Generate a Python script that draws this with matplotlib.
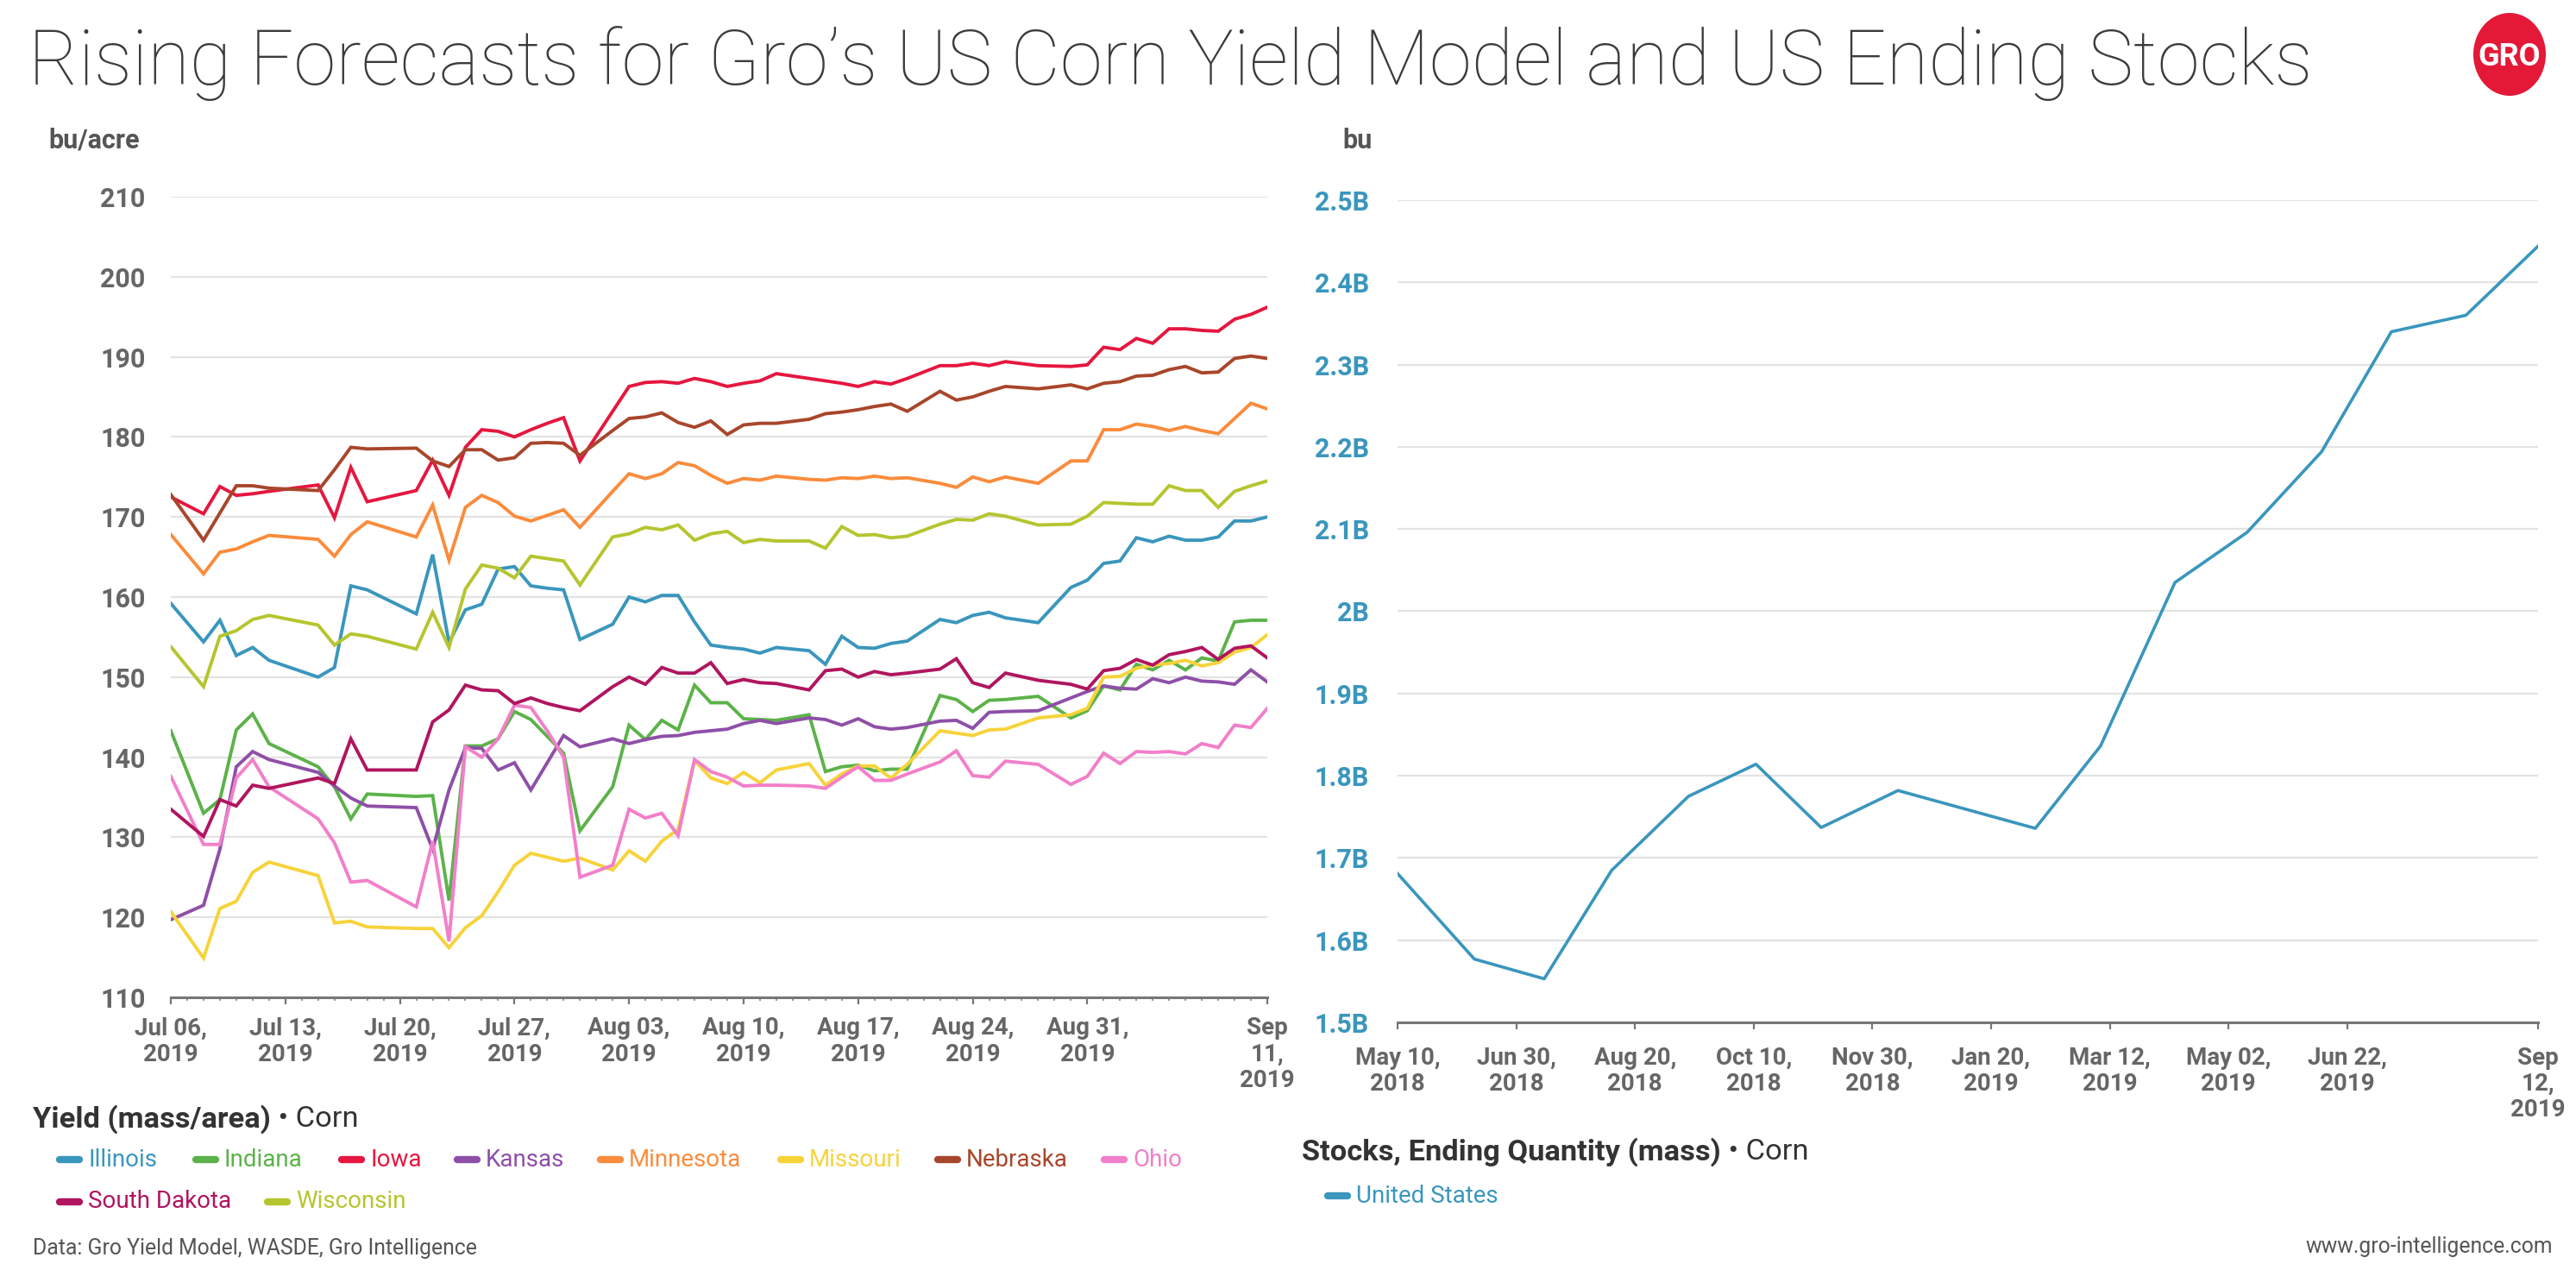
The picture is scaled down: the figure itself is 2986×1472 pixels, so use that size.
import matplotlib
matplotlib.use("Agg")
import matplotlib.pyplot as plt
import matplotlib.dates as mdates
from matplotlib.lines import Line2D
from matplotlib.patches import Ellipse
from matplotlib.ticker import FixedLocator, FuncFormatter
import numpy as np
import pandas as pd

plt.rcParams['font.family'] = ['Roboto', 'DejaVu Sans']

W, H = 2986, 1472

## rendimiento modelo Gro (bu/acre), dias desde Jul 06 2019
yield_start = pd.Timestamp('2019-07-06')
day_offsets = [0, 2, 3, 4, 5, 6, 9, 10, 11, 12,
               15, 16, 17, 18, 19, 20, 21, 22, 23, 24, 25,
               27, 28, 29, 30, 31, 32, 33, 34, 35, 36, 37,
               39, 40, 41, 42, 43, 44, 45,
               47, 48, 49, 50, 51,
               53,
               55, 56, 57, 58, 59, 60, 61, 62, 63, 64, 65, 66, 67]

states = ['Illinois', 'Indiana', 'Iowa', 'Kansas', 'Minnesota',
          'Missouri', 'Nebraska', 'Ohio', 'South Dakota', 'Wisconsin']

illinois = [159.2, 154.4, 157.1, 152.7, 153.7, 152.1, 150.0, 151.2, 161.4, 160.9,
            157.9, 165.3, 154.3, 158.4, 159.1, 163.5, 163.8, 161.4, 161.1, 160.9, 154.7,
            156.6, 160.0, 159.4, 160.2, 160.2, 156.9, 154.0, 153.7, 153.5, 153.0, 153.7,
            153.3, 151.6, 155.1, 153.7, 153.6, 154.2, 154.5,
            157.2, 156.8, 157.7, 158.1, 157.4,
            156.8,
            161.2, 162.1, 164.2, 164.5, 167.4, 166.9, 167.6, 167.1, 167.1, 167.5, 169.5, 169.5, 170.0]
indiana = [143.3, 133.0, 134.7, 143.4, 145.4, 141.7, 138.8, 136.3, 132.3, 135.4,
           135.1, 135.2, 122.1, 141.4, 141.4, 142.3, 145.7, 144.7, 142.6, 140.5, 130.8,
           136.3, 144.0, 142.2, 144.6, 143.4, 149.0, 146.8, 146.8, 144.8, 144.7, 144.6,
           145.3, 138.2, 138.8, 139.0, 138.3, 138.5, 138.5,
           147.7, 147.2, 145.7, 147.1, 147.2,
           147.6,
           144.9, 145.8, 148.9, 148.4, 151.6, 150.9, 152.1, 150.9, 152.4, 152.0, 156.9, 157.1, 157.1]
iowa = [172.5, 170.4, 173.8, 172.7, 172.9, 173.2, 174.0, 169.9, 176.2, 171.9,
        173.3, 177.1, 172.7, 178.7, 180.9, 180.7, 180.0, 180.9, 181.7, 182.4, 177.0,
        183.2, 186.3, 186.8, 186.9, 186.7, 187.3, 186.9, 186.3, 186.7, 187.0, 187.9,
        187.3, 187.0, 186.7, 186.3, 186.9, 186.6, 187.3,
        188.9, 188.9, 189.2, 188.9, 189.4,
        188.9,
        188.8, 189.0, 191.2, 190.9, 192.3, 191.7, 193.5, 193.5, 193.3, 193.2, 194.7, 195.3, 196.2]
kansas = [119.7, 121.5, 128.5, 138.8, 140.7, 139.7, 138.1, 136.4, 134.9, 133.9,
          133.7, 128.5, 135.9, 141.2, 141.1, 138.4, 139.3, 135.9, 139.3, 142.7, 141.3,
          142.3, 141.7, 142.2, 142.6, 142.7, 143.1, 143.3, 143.5, 144.2, 144.6, 144.2,
          144.9, 144.7, 144.0, 144.8, 143.8, 143.5, 143.7,
          144.5, 144.6, 143.6, 145.6, 145.7,
          145.8,
          147.4, 148.2, 148.9, 148.6, 148.5, 149.8, 149.3, 150.0, 149.5, 149.4, 149.1, 150.9, 149.4]
minnesota = [167.8, 162.9, 165.6, 166.0, 166.9, 167.7, 167.2, 165.1, 167.8, 169.4,
             167.5, 171.5, 164.6, 171.2, 172.7, 171.8, 170.1, 169.5, 170.2, 170.9, 168.7,
             173.2, 175.4, 174.8, 175.4, 176.8, 176.4, 175.2, 174.2, 174.8, 174.6, 175.1,
             174.7, 174.6, 174.9, 174.8, 175.1, 174.8, 174.9,
             174.2, 173.7, 175.0, 174.4, 175.0,
             174.2,
             177.0, 177.0, 180.9, 180.9, 181.6, 181.3, 180.8, 181.3, 180.8, 180.4, 182.3, 184.2, 183.5]
missouri = [120.7, 114.9, 121.1, 122.0, 125.6, 126.9, 125.2, 119.3, 119.5, 118.8,
            118.6, 118.6, 116.2, 118.7, 120.2, 123.2, 126.5, 128.0, 127.5, 127.0, 127.4,
            125.9, 128.3, 127.0, 129.5, 131.0, 139.6, 137.4, 136.7, 138.1, 136.8, 138.4,
            139.2, 136.5, 137.9, 138.9, 138.9, 137.4, 139.1,
            143.3, 143.0, 142.7, 143.4, 143.5,
            144.9,
            145.3, 146.1, 150.0, 150.1, 151.1, 151.5, 151.7, 152.1, 151.4, 151.8, 153.1, 153.7, 155.3]
nebraska = [172.8, 167.1, 170.5, 173.9, 173.9, 173.6, 173.3, 175.9, 178.7, 178.5,
            178.6, 177.0, 176.3, 178.4, 178.4, 177.1, 177.4, 179.2, 179.3, 179.2, 177.7,
            180.8, 182.3, 182.5, 183.0, 181.8, 181.2, 182.0, 180.3, 181.5, 181.7, 181.7,
            182.2, 182.9, 183.1, 183.4, 183.8, 184.1, 183.2,
            185.7, 184.6, 185.0, 185.7, 186.3,
            186.0,
            186.5, 186.0, 186.7, 186.9, 187.6, 187.7, 188.4, 188.8, 188.0, 188.1, 189.8, 190.1, 189.8]
ohio = [137.6, 129.1, 129.1, 137.4, 139.7, 136.3, 132.3, 129.3, 124.4, 124.6,
        121.3, 129.5, 117.0, 141.3, 140.0, 142.3, 146.5, 146.2, 143.3, 140.0, 125.0,
        126.5, 133.5, 132.4, 133.0, 130.2, 139.7, 138.2, 137.5, 136.4, 136.5, 136.5,
        136.4, 136.1, 137.5, 138.8, 137.1, 137.1, 137.9,
        139.4, 140.8, 137.7, 137.5, 139.5,
        139.1,
        136.6, 137.6, 140.5, 139.2, 140.7, 140.6, 140.7, 140.4, 141.7, 141.2, 144.0, 143.7, 146.1]
south_dakota = [133.5, 130.1, 134.7, 133.9, 136.5, 136.1, 137.4, 136.7, 142.3, 138.4,
                138.4, 144.4, 145.9, 149.0, 148.4, 148.3, 146.7, 147.4, 146.7, 146.2, 145.8,
                148.8, 150.0, 149.1, 151.2, 150.5, 150.5, 151.8, 149.2, 149.7, 149.3, 149.2,
                148.4, 150.8, 151.0, 150.0, 150.7, 150.3, 150.5,
                151.0, 152.3, 149.3, 148.7, 150.5,
                149.6,
                149.1, 148.5, 150.8, 151.1, 152.2, 151.5, 152.8, 153.2, 153.7, 152.2, 153.6, 153.9, 152.4]
wisconsin = [153.8, 148.8, 155.1, 155.8, 157.2, 157.7, 156.5, 154.0, 155.4, 155.1,
             153.5, 158.1, 153.7, 161.0, 164.0, 163.6, 162.4, 165.1, 164.8, 164.5, 161.5,
             167.5, 167.9, 168.7, 168.4, 169.0, 167.1, 167.9, 168.2, 166.8, 167.2, 167.0,
             167.0, 166.1, 168.8, 167.7, 167.8, 167.4, 167.6,
             169.1, 169.7, 169.6, 170.4, 170.1,
             169.0,
             169.1, 170.1, 171.8, 171.7, 171.6, 171.6, 173.9, 173.3, 173.3, 171.2, 173.2, 173.9, 174.5]

## stocks finales EEUU (miles de millones de bu), reportes WASDE
stock_dates = ['2018-05-10', '2018-06-12', '2018-07-12', '2018-08-10', '2018-09-12',
               '2018-10-11', '2018-11-08', '2018-12-11', '2019-02-08', '2019-03-08',
               '2019-04-09', '2019-05-10', '2019-06-11', '2019-07-11', '2019-08-12',
               '2019-09-12']
stocks_bn = [1.681, 1.577, 1.553, 1.685, 1.775, 1.814, 1.737, 1.782, 1.736, 1.836,
             2.035, 2.096, 2.194, 2.340, 2.360, 2.444]

yield_series = [illinois, indiana, iowa, kansas, minnesota,
                missouri, nebraska, ohio, south_dakota, wisconsin]
colors = ['#3a96bd', '#5cb24a', '#e5173f', '#8e4fa8', '#fa8c3c',
          '#f7d33a', '#a8462b', '#f27fc9', '#b0155f', '#b5c52f']

gray_txt = '#666666'
blue = '#3a96bd'


def fx(px):
    return px / W


def fy(px):
    return 1 - px / H


fig = plt.figure(figsize=(W / 100, H / 100), dpi=100)
fig.patch.set_facecolor('white')

############ grafico izquierdo ############
ax1 = fig.add_axes([fx(198), fy(1156), fx(1469) - fx(198), fy(228) - fy(1156)])
yield_dates = yield_start + pd.to_timedelta(day_offsets, unit='D')
for vals, c in zip(yield_series, colors):
    ax1.plot(yield_dates, vals, color=c, lw=2.8, solid_joinstyle='miter')

x_end = yield_start + pd.Timedelta(days=67)
ax1.set_xlim(yield_start, x_end)
ax1.set_ylim(110, 210)
ax1.set_yticks(np.arange(110, 211, 10))
ax1.grid(axis='y', color='#e3e3e3', lw=1.6)
ax1.set_axisbelow(True)

major1 = list(pd.date_range(yield_start, periods=9, freq='7D')) + [x_end]
ax1.xaxis.set_major_locator(FixedLocator(mdates.date2num(major1)))
ax1.xaxis.set_minor_locator(mdates.DayLocator())
labels1 = [f"{d:%b %d},\n{d:%Y}" for d in major1[:-1]] + ["Sep\n11,\n2019"]
ax1.set_xticklabels(labels1, linespacing=1.17)

############ grafico derecho ############
ax2 = fig.add_axes([fx(1620), fy(1185), fx(2942) - fx(1620), fy(232) - fy(1185)])
sd = pd.to_datetime(stock_dates)
ax2.plot(sd, stocks_bn, color=blue, lw=2.6)
s_start = pd.Timestamp('2018-05-10')
s_end = pd.Timestamp('2019-09-12')
ax2.set_xlim(s_start, s_end)
ax2.set_ylim(1.5, 2.5)
ax2.set_yticks(np.arange(1.5, 2.51, 0.1))
ax2.yaxis.set_major_formatter(FuncFormatter(
    lambda v, p: f"{v:.1f}".rstrip('0').rstrip('.') + 'B'))
ax2.grid(axis='y', color='#e3e3e3', lw=1.6)
ax2.set_axisbelow(True)

major2 = list(pd.date_range(s_start, periods=9, freq='51D')) + [s_end]
ax2.xaxis.set_major_locator(FixedLocator(mdates.date2num(major2)))
labels2 = [f"{d:%b %d},\n{d:%Y}" for d in major2[:-1]] + ["Sep\n12,\n2019"]
ax2.set_xticklabels(labels2, linespacing=1.15)

for ax in (ax1, ax2):
    for s in ('top', 'right', 'left'):
        ax.spines[s].set_visible(False)
    ax.spines['bottom'].set_color('#777777')
    ax.spines['bottom'].set_linewidth(2.2)
    ax.tick_params(axis='y', length=0, labelsize=22, labelcolor=gray_txt, pad=21)
    ax.tick_params(axis='x', which='major', length=6, width=1.6, color='#777777',
                   labelsize=20, labelcolor=gray_txt, pad=10)
    ax.tick_params(axis='x', which='minor', length=3, width=1.2, color='#888888')
    for t in ax.get_xticklabels() + ax.get_yticklabels():
        t.set_fontweight('bold')
ax2.tick_params(axis='y', labelcolor=blue, pad=24)
ax2.tick_params(axis='x', pad=14)

############ textos ############
fig.text(fx(33), fy(98), 'Rising Forecasts for Gro\u2019s US Corn Yield Model and US Ending Stocks',
         fontsize=63.8, fontweight='light', color='#3b3b3b', va='baseline', ha='left')

# logo
fig.add_artist(Ellipse((fx(2909), fy(63)), fx(84), 96 / H, transform=fig.transFigure,
                       facecolor='#e31937', edgecolor='none'))
fig.text(fx(2909), fy(66), 'GRO', color='white', fontsize=26, fontweight='bold',
         ha='center', va='center')

fig.text(fx(109), fy(162), 'bu/acre', fontsize=22, fontweight='bold', color='#555555',
         ha='center', va='center')
fig.text(fx(1574), fy(163), 'bu', fontsize=22, fontweight='bold', color='#555555',
         ha='center', va='center')

renderer = fig.canvas.get_renderer()


def titulo(x, y, bold, rest):
    t = fig.text(fx(x), fy(y), bold, fontsize=24.8, fontweight='bold', color='#333333',
                 ha='left', va='center')
    bb = t.get_window_extent(renderer=renderer)
    fig.text(bb.x1 / W, fy(y), rest, fontsize=24.8, color='#333333', ha='left', va='center')


titulo(38, 1297, 'Yield (mass/area)', ' \u2022 Corn')
titulo(1509, 1335, 'Stocks, Ending Quantity (mass)', ' \u2022 Corn')


def entrada(x_text, y, label, c):
    fig.add_artist(Line2D([fx(x_text - 33), fx(x_text - 10)], [fy(y), fy(y)],
                          transform=fig.transFigure, color=c, lw=6,
                          solid_capstyle='round'))
    fig.text(fx(x_text), fy(y), label, color=c, fontsize=20, ha='left', va='center')


legend_x = [102, 260, 429, 563, 729, 938, 1120, 1313, 102, 343]
legend_y = [1344] * 8 + [1393, 1393]
for name, c, lx, ly in zip(states, colors, legend_x, legend_y):
    entrada(lx, ly, name, c)
entrada(1572, 1386, 'United States', blue)

fig.text(fx(38), fy(1447), 'Data: Gro Yield Model, WASDE, Gro Intelligence',
         fontsize=17.8, color='#555555', ha='left', va='center')
fig.text(fx(2959), fy(1445), 'www.gro-intelligence.com',
         fontsize=17.8, color='#555555', ha='right', va='center')

fig.savefig('out.png', dpi=100, facecolor='white')
